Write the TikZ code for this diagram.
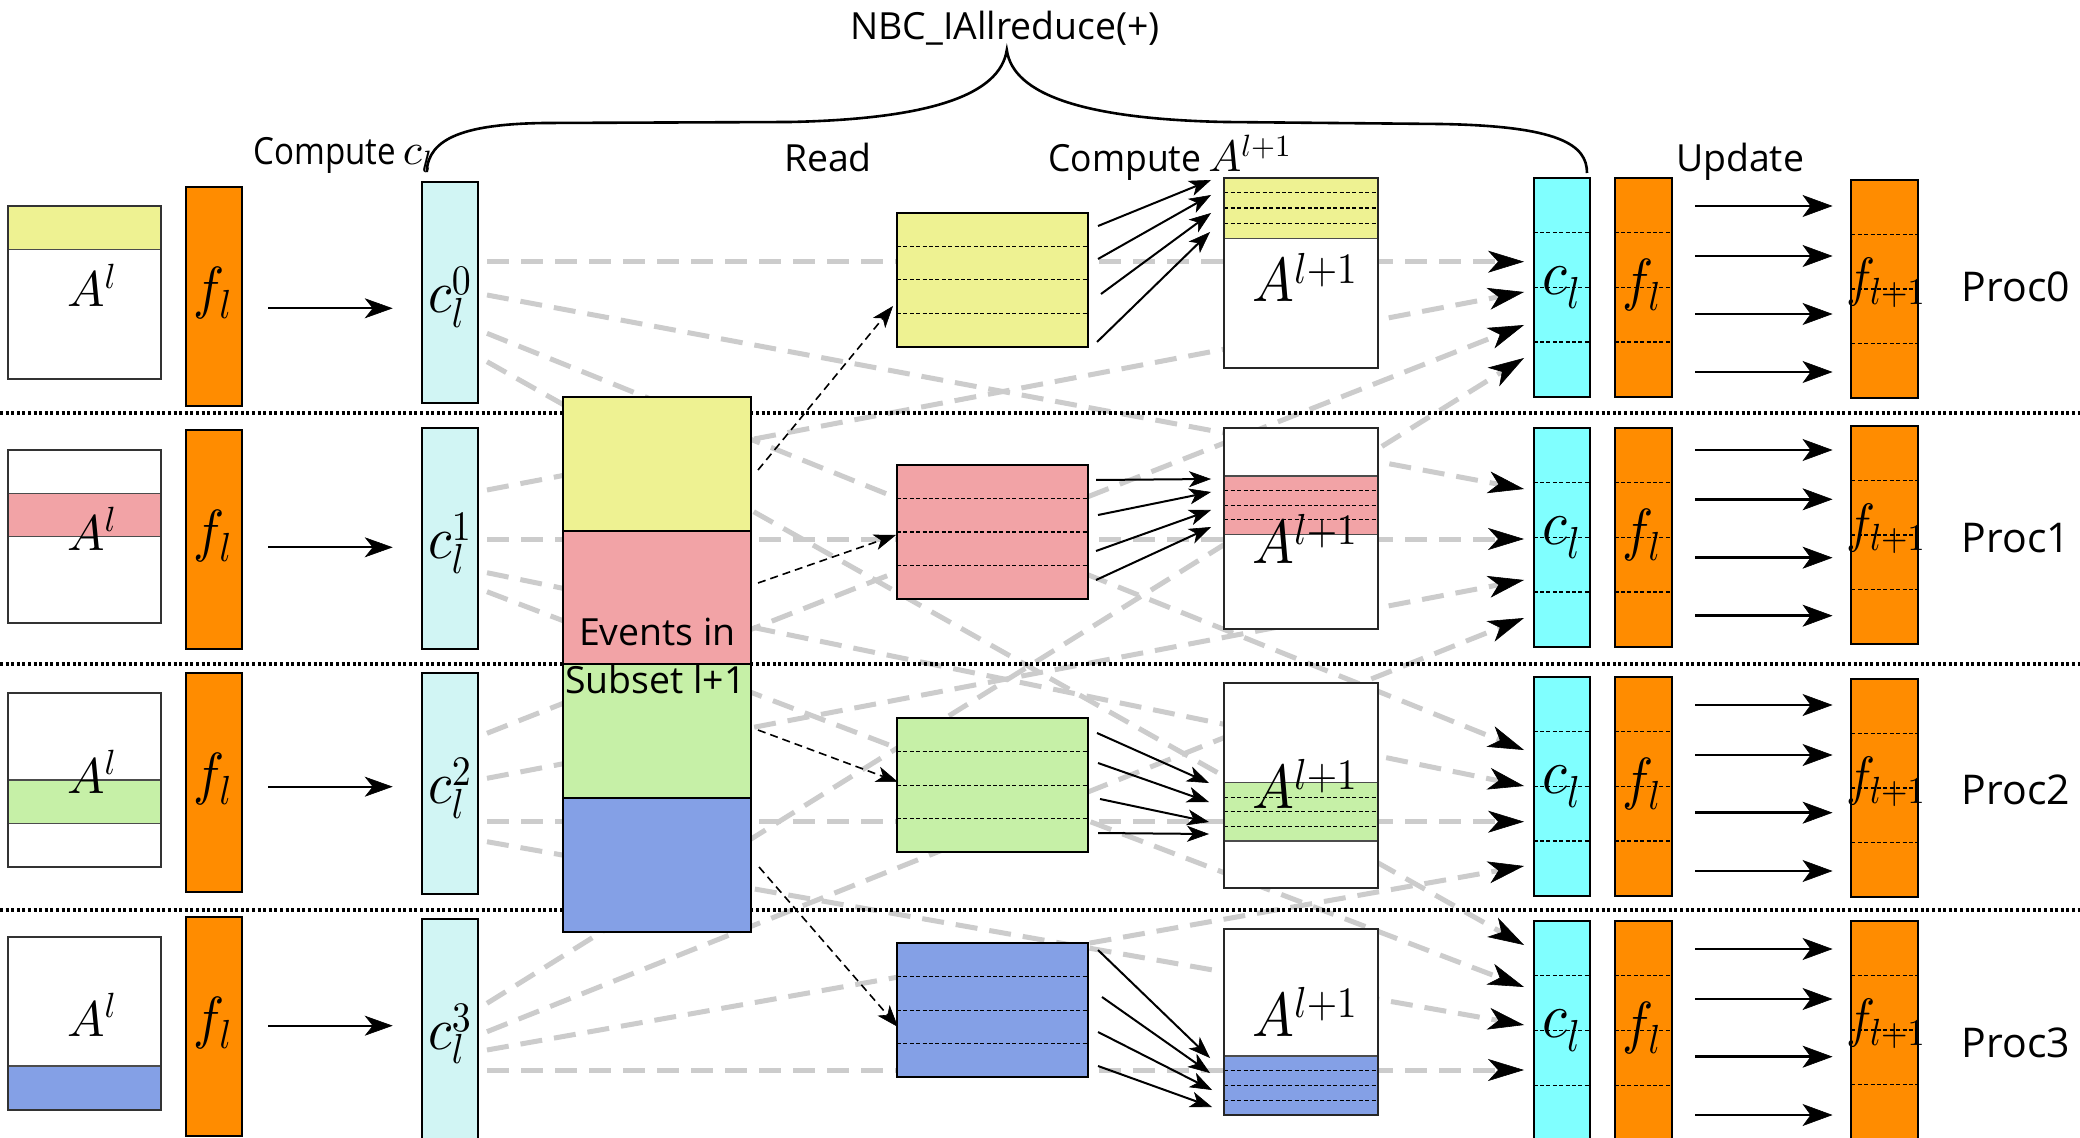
\documentclass[tikz,border=0pt]{standalone}
\usepackage[no-math]{fontspec}
\newfontfamily\labelfont{Open Sans}
\usetikzlibrary{arrows.meta,fit,calc}
% scalable Computer Modern for large formulas
\DeclareFontShape{OML}{cmm}{m}{it}{<->cmmi10}{}
\DeclareFontShape{OT1}{cmr}{m}{n}{<->cmr10}{}

\definecolor{yel}{HTML}{EEF292}
\definecolor{pnk}{HTML}{F2A3A6}
\definecolor{grn}{HTML}{C6F0A7}
\definecolor{blu}{HTML}{84A0E6}
\definecolor{lcyan}{HTML}{D1F5F4}
\definecolor{cyn}{HTML}{80FFFF}
\definecolor{org}{HTML}{FF8C00}
\definecolor{lgray}{HTML}{CCCCCC}

% three dashed dividers splitting a block into quarters
\newcommand\quartered[1]{%
  \foreach \q in {0.25,0.5,0.75}{%
    \draw[divider] ($(#1.north west)!\q!(#1.south west)$) -- ($(#1.north east)!\q!(#1.south east)$);}}
% slightly condensed formula
\newcommand\narrowmath[1]{\scalebox{0.9}[1]{$#1$}}

\begin{document}
\begin{tikzpicture}[x=0.5pt, y=-0.5pt,
  frame/.style={draw=black, line width=1pt, inner sep=0pt, outer sep=0pt},
  plain/.style={inner sep=0pt, outer sep=0pt},
  band/.style={draw=black!70, line width=0.7pt, inner sep=0pt, outer sep=0pt},
  divider/.style={draw=black, line width=0.6pt, dash pattern=on 2pt off 1.2pt},
  feed/.style={draw=lgray, line width=2.5pt, dash pattern=on 11pt off 6pt,
    -{Stealth[color=black, length=18pt, width=11pt, inset=5pt, line width=0.3pt]}},
  upd/.style={draw=black, line width=1.3pt,
    -{Stealth[length=15pt, width=11pt, inset=4pt, line width=0.3pt]}},
  calc/.style={draw=black, line width=1pt,
    -{Stealth[length=14pt, width=10pt, inset=4pt, line width=0.3pt]}},
  comp/.style={draw=black, line width=1pt,
    -{Stealth[length=11pt, width=8pt, inset=3pt, line width=0.3pt]}},
  rdarr/.style={draw=black, line width=0.8pt, dash pattern=on 4pt off 2.5pt,
    -{Stealth[length=11pt, width=8pt, inset=3pt, line width=0.3pt]}},
  sep/.style={draw=black, line width=2pt, dash pattern=on 1.5pt off 1.3pt},
  txt/.style={font={\labelfont\fontsize{18.7}{22}\selectfont}, inner sep=0pt},
  proc/.style={font={\labelfont\fontsize{20.5}{24}\selectfont}, inner sep=0pt},
  mA/.style={font={\fontsize{25}{28}\selectfont}, inner sep=0pt},
  mF/.style={font={\fontsize{29}{32}\selectfont}, inner sep=0pt},
  mC/.style={font={\fontsize{30}{33}\selectfont}, inner sep=0pt},
  mCl/.style={font={\fontsize{32}{35}\selectfont}, inner sep=0pt},
  mFn/.style={font={\fontsize{27}{30}\selectfont}, inner sep=0pt},
  mAn/.style={font={\fontsize{31}{34}\selectfont}, inner sep=0pt}
]
\useasboundingbox (0,0) rectangle (2080,1138);
\fill[white] (0,0) rectangle (2080,1138);

% ---------- end points of the all-reduce traffic
\foreach \k/\ya/\yb/\yc/\yd in {0/261.7/295/333.3/361.7, 1/490/539/572.7/591.7,
                                2/733.3/778.3/821.7/841.7, 3/1003.3/1031.7/1050/1070}{
  \coordinate (s\k-0) at (487,\ya);
  \coordinate (s\k-1) at (487,\yb);
  \coordinate (s\k-2) at (487,\yc);
  \coordinate (s\k-3) at (487,\yd);
}
\foreach \i/\ya/\yb/\yc/\yd in {0/261.7/292/325/358, 1/489/539/580/618,
                                2/750/786/821.7/866, 3/945/987/1025/1070}{
  \coordinate (t\i-0) at (1524,\ya);
  \coordinate (t\i-1) at (1524,\yb);
  \coordinate (t\i-2) at (1524,\yc);
  \coordinate (t\i-3) at (1524,\yd);
}
% partial sums travel from every process to every process
\foreach \k in {0,1,2,3}{
  \foreach \i in {0,1,2,3}{
    \draw[feed] (s\k-\i) -- (t\i-\k);
  }
}

% ---------- process separators
\foreach \y [count=\n] in {413.3, 663.5, 910}{
  \coordinate (sepL\n) at (0,\y);
  \coordinate (sepR\n) at (2080,\y);
  \draw[sep] (sepL\n) -- (sepR\n);
}

% ---------- column 1: local blocks A^l
\foreach \r/\top/\bt/\col/\base in {0/206/206/yel/306.7, 1/450/493.3/pnk/550,
                                     2/693.3/780/grn/793, 3/936.7/1066/blu/1036}{
  \node[plain, fill=white, fit={(8.3,\top) (160.7,\top+173.3)}] (al\r) {};
  \node[band, fill=\col, fit={(8.3,\bt) (160.7,\bt+43.3)}] (alb\r) {};
  \draw[draw=black!80, line width=1pt] (al\r.north west) rectangle (al\r.south east);
  \node[mA, anchor=base] (alt\r) at (92,\base) {$A^l$};
}

% ---------- column 2: f_l
\foreach \r/\top in {0/186.7, 1/430, 2/673.3, 3/916.7}{
  \node[frame, fill=org, fit={(186,\top) (242,\top+219)}] (fl\r) {};
  \node[mF] (flt\r) at (213,\top+106) {\narrowmath{f_l}};
}

% ---------- column 3: c_l^k
\foreach \r/\top in {0/182.3, 1/428.3, 2/673.3, 3/919}{
  \node[frame, fill=lcyan, fit={(421.7,\top) (478.3,\top+221)}] (c\r) {};
  \node[mC] (ct\r) at (450,\top+115) {\narrowmath{c_l^{\r}}};
}

% ---------- f_l -> c_l^k
\foreach \r/\y in {0/308.3, 1/547.3, 2/786.7, 3/1025.7}{
  \coordinate (fa\r) at (268.3,\y);
  \coordinate (fb\r) at (392.7,\y);
  \draw[calc] (fa\r) -- (fb\r);
}

% ---------- events of the next subset
\node[frame, fill=yel, fit={(562.7,396.7) (750.7,530.7)}] (ev0) {};
\node[frame, fill=pnk, fit={(562.7,530.7) (750.7,664)}] (ev1) {};
\node[frame, fill=grn, fit={(562.7,664) (750.7,798.3)}] (ev2) {};
\node[frame, fill=blu, fit={(562.7,798.3) (750.7,932.3)}] (ev3) {};
\node[txt, anchor=base] (evA) at (657.5,645) {Events in};
\node[txt, anchor=base] (evB) at (655.5,693.3) {Subset l+1};

% ---------- blocks read by each process
\foreach \r/\top/\col in {0/212.7/yel, 1/465/pnk, 2/718.3/grn, 3/943.3/blu}{
  \node[frame, fill=\col, fit={(897,\top) (1087.5,\top+134)}] (rd\r) {};
  \quartered{rd\r}
}
\coordinate (ra0) at (758,470);  \coordinate (rb0) at (893,306);
\coordinate (ra1) at (758,583);  \coordinate (rb1) at (896,535);
\coordinate (ra2) at (758,730);  \coordinate (rb2) at (898,782);
\coordinate (ra3) at (759,867);  \coordinate (rb3) at (898,1027);
\foreach \r in {0,1,2,3}{ \draw[rdarr] (ra\r) -- (rb\r); }

% ---------- A^{l+1}
\foreach \r/\top/\h/\bt/\bh/\col/\base in {0/177.7/190.6/177.7/60.6/yel/302,
                                          1/427.7/201/476/58.3/pnk/563,
                                          2/682.7/205.6/782.7/58.3/grn/808,
                                          3/929/186/1056/59/blu/1036}{
  \node[plain, fill=white, fit={(1224.3,\top) (1378.3,\top+\h)}] (an\r) {};
  \node[band, fill=\col, fit={(1224.3,\bt) (1378.3,\bt+\bh)}] (anb\r) {};
  \quartered{anb\r}
  \draw[draw=black!85, line width=1pt] (an\r.north west) rectangle (an\r.south east);
  \node[mAn, anchor=base] (ant\r) at (1305,\base) {\narrowmath{A^{l+1}}};
}

% ---------- read block -> A^{l+1}
\foreach \r/\n/\xa/\ya/\xb/\yb in {
  0/0/1098/226/1211/180, 0/1/1098/259/1211/195, 0/2/1101/294/1211/213, 0/3/1097/342/1210/232,
  1/0/1096/480/1211/479, 1/1/1098/515/1211/492, 1/2/1096/551/1211/510, 1/3/1096/580/1211/527,
  2/0/1097/733/1209/783, 2/1/1098/763/1209/802, 2/2/1100/799/1209/822, 2/3/1098/833/1209/834,
  3/0/1098/950/1210/1058, 3/1/1102/997/1210/1073, 3/2/1098/1032/1212/1090, 3/3/1098/1066/1212/1107}{
  \coordinate (ka\r-\n) at (\xa,\ya);
  \coordinate (kb\r-\n) at (\xb,\yb);
  \draw[comp] (ka\r-\n) -- (kb\r-\n);
}

% ---------- reduced c_l, f_l, f_{l+1}
\foreach \r/\top/\ttop/\ya/\yb/\yc/\yd in {0/177.7/180/206/256/314/372,
                                          1/427.7/426/450/499.3/557.7/615.7,
                                          2/676.7/679/705/755/812.7/871,
                                          3/921/921/949/999/1056.7/1115}{
  \node[frame, fill=cyn, fit={(1533.6,\top) (1589.6,\top+219)}] (cl\r) {};
  \quartered{cl\r}
  \node[mCl] (clt\r) at (1561.6,\top+110) {\narrowmath{c_l}};
  \node[frame, fill=org, fit={(1614.6,\top) (1671.5,\top+219)}] (fm\r) {};
  \quartered{fm\r}
  \node[mF] (fmt\r) at (1642,\top+107) {\narrowmath{f_l}};
  \node[frame, fill=org, fit={(1851.4,\ttop) (1917.5,\ttop+218)}] (fn\r) {};
  \quartered{fn\r}
  \node[mFn] (fnt\r) at (1886,\ttop+103) {\narrowmath{f_{l+1}}};
  \foreach \n/\y in {0/\ya, 1/\yb, 2/\yc, 3/\yd}{
    \coordinate (ua\r-\n) at (1695,\y);
    \coordinate (ub\r-\n) at (1832.5,\y);
    \draw[upd] (ua\r-\n) -- (ub\r-\n);
  }
}

% ---------- process names
\node[proc, anchor=base] (p0) at (2016,302) {Proc0};
\node[proc, anchor=base] (p1) at (2016,552) {Proc1};
\node[proc, anchor=base] (p2) at (2016,804) {Proc2};
\node[proc, anchor=base] (p3) at (2016,1057) {Proc3};

% ---------- phase labels
\node[txt, anchor=base west] (lc) at (253,165)
  {\scalebox{0.885}[1]{Compute}{\fontsize{22}{26}\selectfont$\,c_l$}};
\node[txt, anchor=base] (lr) at (828,171.7) {Read};
\node[txt, anchor=base west] (la) at (1048,171.7)
  {\scalebox{0.95}[1]{Compute}{\fontsize{22}{26}\selectfont$\,A^{l+1}$}};
\node[txt, anchor=base] (lu) at (1740,172) {Update};
\node[txt, anchor=base] (lnbc) at (1005,40) {NBC\_IAllreduce(+)};

% ---------- brace spanning the non-blocking all-reduce
\coordinate (brL) at (426.7,172);
\coordinate (brT) at (1006.8,50);
\coordinate (brR) at (1587,173);
\draw[line width=1.3pt] (brL) .. controls (428,138) and (465,124) .. (545,123)
  -- (790,122) .. controls (930,119) and (1000,95) .. (brT)
  .. controls (1013,95) and (1085,119) .. (1225,122)
  -- (1440,124) .. controls (1560,126) and (1587,145) .. (brR);
\end{tikzpicture}
\end{document}
